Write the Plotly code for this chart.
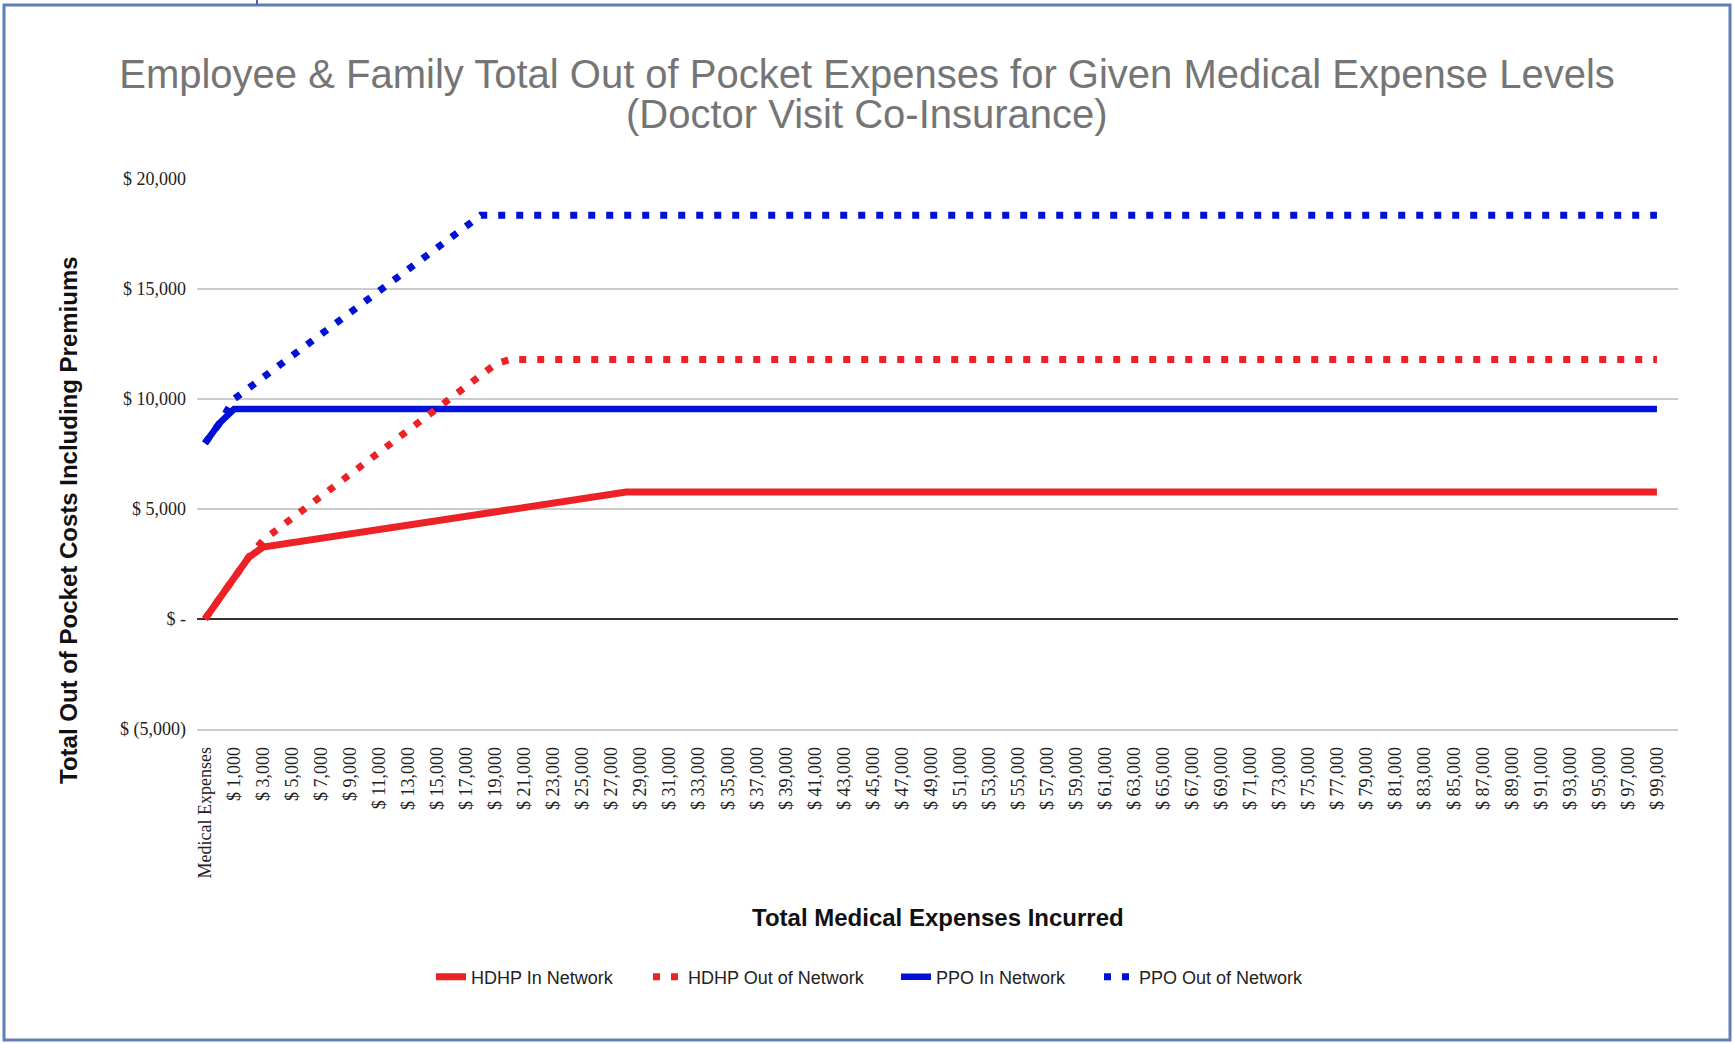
import plotly.graph_objects as go

# medical expense levels on the x axis (first row is the sheet header)
expense_levels = list(range(0, 100000, 1000))
categories = ["Medical Expenses"] + ["$ -" if v == 0 else "$ {:,}".format(v) for v in expense_levels]

# total out of pocket cost incl. premiums
hdhp_in = [
    0, 930, 1870, 2800, 3270, 3370, 3470, 3570, 3670, 3770,
    3870, 3970, 4070, 4170, 4270, 4370, 4470, 4570, 4670, 4770,
    4870, 4970, 5070, 5170, 5270, 5370, 5470, 5570, 5670, 5770,
    5770, 5770, 5770, 5770, 5770, 5770, 5770, 5770, 5770, 5770,
    5770, 5770, 5770, 5770, 5770, 5770, 5770, 5770, 5770, 5770,
    5770, 5770, 5770, 5770, 5770, 5770, 5770, 5770, 5770, 5770,
    5770, 5770, 5770, 5770, 5770, 5770, 5770, 5770, 5770, 5770,
    5770, 5770, 5770, 5770, 5770, 5770, 5770, 5770, 5770, 5770,
    5770, 5770, 5770, 5770, 5770, 5770, 5770, 5770, 5770, 5770,
    5770, 5770, 5770, 5770, 5770, 5770, 5770, 5770, 5770, 5770,
    5770,
]
hdhp_out = [
    0, 930, 1870, 2800, 3580, 4080, 4580, 5080, 5580, 6080,
    6580, 7080, 7580, 8080, 8580, 9080, 9580, 10080, 10580, 11080,
    11580, 11800, 11800, 11800, 11800, 11800, 11800, 11800, 11800, 11800,
    11800, 11800, 11800, 11800, 11800, 11800, 11800, 11800, 11800, 11800,
    11800, 11800, 11800, 11800, 11800, 11800, 11800, 11800, 11800, 11800,
    11800, 11800, 11800, 11800, 11800, 11800, 11800, 11800, 11800, 11800,
    11800, 11800, 11800, 11800, 11800, 11800, 11800, 11800, 11800, 11800,
    11800, 11800, 11800, 11800, 11800, 11800, 11800, 11800, 11800, 11800,
    11800, 11800, 11800, 11800, 11800, 11800, 11800, 11800, 11800, 11800,
    11800, 11800, 11800, 11800, 11800, 11800, 11800, 11800, 11800, 11800,
    11800,
]
ppo_in = [
    7990, 8900, 9540, 9540, 9540, 9540, 9540, 9540, 9540, 9540,
    9540, 9540, 9540, 9540, 9540, 9540, 9540, 9540, 9540, 9540,
    9540, 9540, 9540, 9540, 9540, 9540, 9540, 9540, 9540, 9540,
    9540, 9540, 9540, 9540, 9540, 9540, 9540, 9540, 9540, 9540,
    9540, 9540, 9540, 9540, 9540, 9540, 9540, 9540, 9540, 9540,
    9540, 9540, 9540, 9540, 9540, 9540, 9540, 9540, 9540, 9540,
    9540, 9540, 9540, 9540, 9540, 9540, 9540, 9540, 9540, 9540,
    9540, 9540, 9540, 9540, 9540, 9540, 9540, 9540, 9540, 9540,
    9540, 9540, 9540, 9540, 9540, 9540, 9540, 9540, 9540, 9540,
    9540, 9540, 9540, 9540, 9540, 9540, 9540, 9540, 9540, 9540,
    9540,
]
ppo_out = [
    7990, 8900, 10000, 10490, 10980, 11470, 11960, 12450, 12940, 13430,
    13920, 14410, 14900, 15390, 15880, 16370, 16860, 17350, 17840, 18350,
    18350, 18350, 18350, 18350, 18350, 18350, 18350, 18350, 18350, 18350,
    18350, 18350, 18350, 18350, 18350, 18350, 18350, 18350, 18350, 18350,
    18350, 18350, 18350, 18350, 18350, 18350, 18350, 18350, 18350, 18350,
    18350, 18350, 18350, 18350, 18350, 18350, 18350, 18350, 18350, 18350,
    18350, 18350, 18350, 18350, 18350, 18350, 18350, 18350, 18350, 18350,
    18350, 18350, 18350, 18350, 18350, 18350, 18350, 18350, 18350, 18350,
    18350, 18350, 18350, 18350, 18350, 18350, 18350, 18350, 18350, 18350,
    18350, 18350, 18350, 18350, 18350, 18350, 18350, 18350, 18350, 18350,
    18350,
]

y_ticks = [-5000, 0, 5000, 10000, 15000, 20000]
y_ticktext = ["$ (5,000)", "$ -", "$ 5,000", "$ 10,000", "$ 15,000", "$ 20,000"]

RED = "#EC2227"
BLUE = "#0010D6"
DOTS = "7px,11px"

W, H = 1734, 1044
L, R, T, B = 197, 56, 179, 315
PW, PH = W - L - R, H - T - B


def px(x):
    return (x - L) / PW


def py(y):
    return (H - B - y) / PH


def legend_at(xpix):
    # one small legend per series so the gaps match the original
    return dict(orientation="h", xref="container", yref="container",
                x=xpix / W, xanchor="left", y=1 - 977 / H, yanchor="middle",
                font=dict(family="Liberation Sans, Arial", size=18, color="#222222"),
                itemwidth=30, bgcolor="rgba(0,0,0,0)")


fig = go.Figure()
# draw order: blue solid under the red dots
fig.add_trace(go.Scatter(x=categories, y=hdhp_in, name="HDHP In Network", mode="lines",
                         line=dict(color=RED, width=7), legend="legend"))
fig.add_trace(go.Scatter(x=categories, y=ppo_in, name="PPO In Network", mode="lines",
                         line=dict(color=BLUE, width=6.5), legend="legend3"))
fig.add_trace(go.Scatter(x=categories, y=ppo_out, name="PPO Out of Network", mode="lines",
                         line=dict(color=BLUE, width=7, dash=DOTS), legend="legend4"))
fig.add_trace(go.Scatter(x=categories, y=hdhp_out, name="HDHP Out of Network", mode="lines",
                         line=dict(color=RED, width=7, dash=DOTS), legend="legend2"))

fig.update_layout(
    width=W, height=H,
    margin=dict(l=L, r=R, t=T, b=B),
    paper_bgcolor="white", plot_bgcolor="white",
    showlegend=True,
    legend=legend_at(431),
    legend2=legend_at(648),
    legend3=legend_at(896),
    legend4=legend_at(1099),
    title=dict(text="Employee & Family Total Out of Pocket Expenses for Given Medical Expense Levels",
               xref="container", yref="container", x=0.5, xanchor="center",
               y=1 - 74 / H, yanchor="middle",
               font=dict(family="Liberation Sans, Arial", size=40, color="#757575")),
)

fig.update_xaxes(
    type="category", categoryorder="array", categoryarray=categories,
    range=[-0.55, len(categories) + 0.45],
    tickmode="array", tickvals=categories[::2], ticktext=categories[::2],
    tickangle=-90, ticklabelstandoff=9,
    tickfont=dict(family="Liberation Serif, Times New Roman", size=18, color="#222222"),
    showgrid=False, zeroline=False,
    showline=True, linecolor="#cccccc", linewidth=1.5,
)
fig.update_yaxes(
    range=[-5000, 20000], tickmode="array", tickvals=y_ticks, ticktext=y_ticktext,
    ticklabelstandoff=10,
    tickfont=dict(family="Liberation Serif, Times New Roman", size=18, color="#222222"),
    showgrid=True, gridcolor="#cccccc", gridwidth=1.5,
    zeroline=True, zerolinecolor="#333333", zerolinewidth=1.5,
    showline=False,
)

fig.add_annotation(text="(Doctor Visit Co-Insurance)", xref="paper", yref="paper",
                   x=px(W / 2), y=py(114), xanchor="center", yanchor="middle", showarrow=False,
                   font=dict(family="Liberation Sans, Arial", size=40, color="#757575"))
fig.add_annotation(text="<b>Total Out of Pocket Costs Including Premiums</b>", textangle=-90,
                   xref="paper", yref="paper", x=px(68), y=py(520),
                   xanchor="center", yanchor="middle", showarrow=False,
                   font=dict(family="Liberation Sans, Arial", size=24, color="#111111"))
fig.add_annotation(text="<b>Total Medical Expenses Incurred</b>",
                   xref="paper", yref="paper", x=0.5, y=py(917),
                   xanchor="center", yanchor="middle", showarrow=False,
                   font=dict(family="Liberation Sans, Arial", size=24, color="#111111"))

# frame around the whole picture
fig.add_shape(type="rect", xref="paper", yref="paper",
              x0=px(4), x1=px(1730), y0=py(1040), y1=py(5),
              line=dict(color="#5F7FB7", width=3), fillcolor="rgba(0,0,0,0)")
fig.add_shape(type="line", xref="paper", yref="paper",
              x0=px(257), x1=px(257), y0=py(5), y1=py(0),
              line=dict(color="#4A68A6", width=2))

fig.write_html("out.html", config={"displayModeBar": False},
               post_script="document.body.style.margin='0';")
